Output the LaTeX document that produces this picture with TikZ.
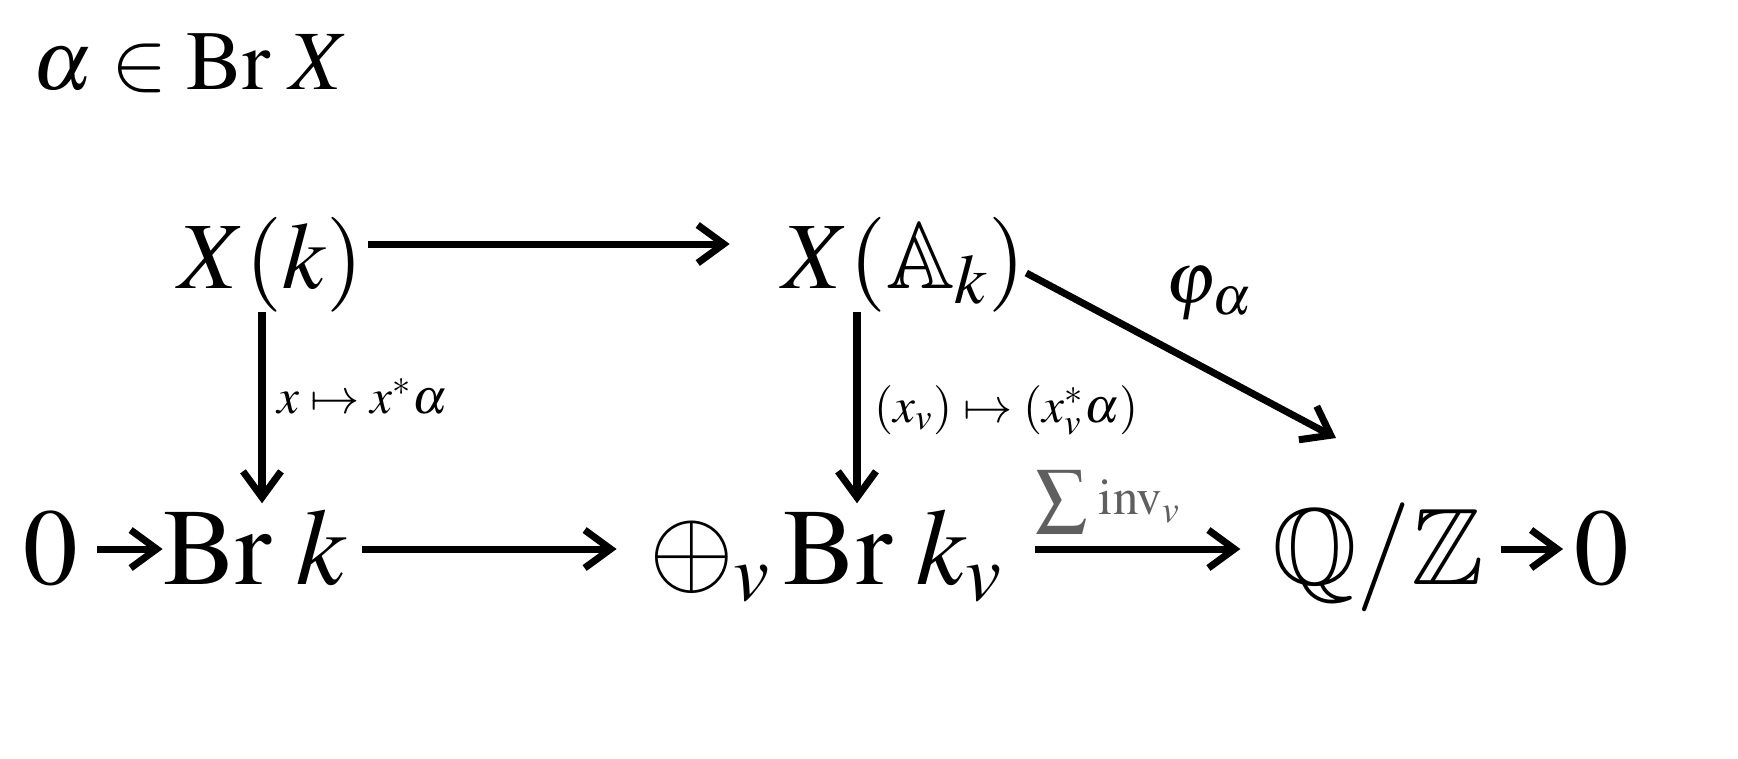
\documentclass[tikz,border=0pt]{standalone}
\usepackage{mathptmx}
\usepackage{amssymb}
\usetikzlibrary{arrows.meta}
\definecolor{invGray}{HTML}{5F5F5F}

\begin{document}
\begin{tikzpicture}[
    obj/.style={inner sep=0pt, anchor=base, font=\fontsize{31}{36}\selectfont},
    objtop/.style={obj, font=\fontsize{27}{32}\selectfont},
    arr/.style={-{Straight Barb[length=2.6mm, width=3.8mm]}, line width=2pt},
    lbl/.style={inner sep=0pt, font=\fontsize{14}{17}\selectfont}
  ]
    \useasboundingbox (0,0) rectangle (17.38,-7.58);
    \node[obj, font=\fontsize{24}{29}\selectfont] (elem) at (1.91,-0.89) {$\alpha \in \mathrm{Br}\; X$};
    \node[objtop] (Xk) at (2.71,-2.88) {$X(k)$};
    \node[objtop] (XA) at (9.04,-2.88) {$X(\mathbb{A}_k)$};
    \node[obj] (zeroL) at (0.51,-5.84) {$0$};
    \node[obj] (Brk) at (2.55,-5.84) {$\mathrm{Br}\; k$};
    \node[obj] (BrLoc) at (8.26,-5.84) {$\oplus_v \mkern2mu \mathrm{Br}\; k_v$};
    \node[obj] (QZ) at (13.78,-5.84) {$\mathbb{Q}/\mathbb{Z}$};
    \node[obj] (zeroR) at (16.02,-5.84) {$0$};
    \coordinate (colL) at ([xshift=-0.9mm]Xk.south);
    \coordinate (colR) at ([xshift=-4.7mm]XA.south);
    % top row and diagonal
    \draw[arr, shorten <=0.4mm, shorten >=5.2mm] ([yshift=4.4mm]Xk.base east) -- ([yshift=4.4mm]XA.base west);
    \draw[arr] ([yshift=1.5mm]XA.base east) -- ([xshift=-4.2mm, yshift=14.6mm]QZ.base)
      node[midway, xshift=2.8mm, yshift=6.2mm, inner sep=0pt, font=\fontsize{21}{25}\selectfont] {$\varphi_{\mkern1mu\alpha}$};
    % verticals
    \draw[arr, shorten >=0.5mm] (colL) -- (colL |- Brk.north)
      node[lbl, midway, right=1.2mm, yshift=1.4mm] {$x \mapsto x^*\alpha$};
    \draw[arr, shorten >=0.5mm] (colR) -- (colR |- Brk.north)
      node[lbl, midway, right=1.4mm] {$(x_v) \mapsto (x_v^*\alpha)$};
    % bottom row
    \draw[arr, shorten <=1.8mm] ([yshift=3.5mm]zeroL.base east) -- ([yshift=3.5mm]Brk.base west);
    \draw[arr, shorten <=1.5mm, shorten >=3.2mm] ([yshift=3.5mm]Brk.base east) -- ([yshift=3.5mm]BrLoc.base west);
    \draw[arr, shorten <=3.2mm, shorten >=3.1mm] ([yshift=3.5mm]BrLoc.base east) -- ([yshift=3.5mm]QZ.base west)
      node[lbl, pos=0.39, above=1.2mm, text=invGray, font=\fontsize{14.5}{17}\selectfont] {$\displaystyle\sum\nolimits \, \mathrm{inv}_v$};
    \draw[arr, shorten <=1.6mm, shorten >=1.1mm] ([yshift=3.5mm]QZ.base east) -- ([yshift=3.5mm]zeroR.base west);
\end{tikzpicture}
\end{document}
